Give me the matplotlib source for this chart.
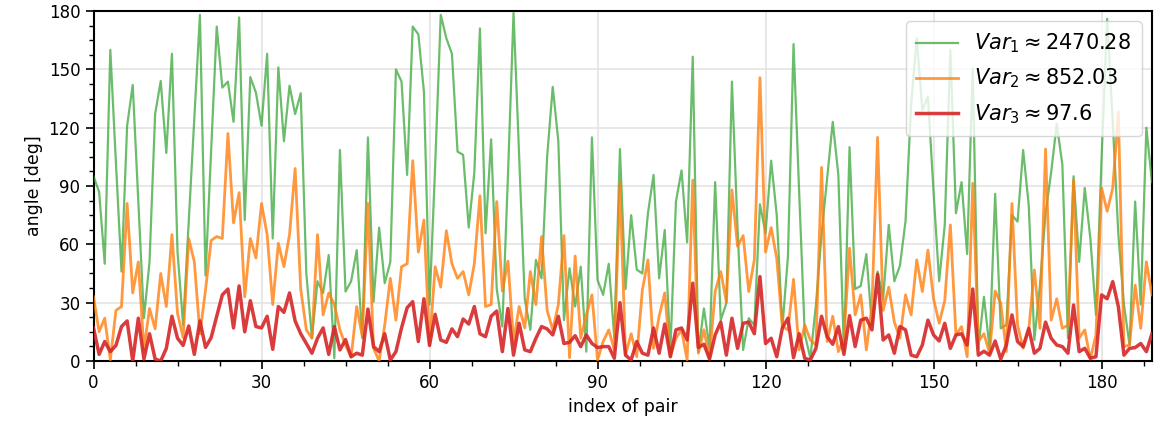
import matplotlib
matplotlib.use("Agg")
import matplotlib.pyplot as plt
from matplotlib.ticker import MultipleLocator
import numpy as np

var1 = [95, 87, 50, 160, 102, 46, 121, 142, 82, 22, 51, 127, 144, 107, 158, 56, 18.5, 72, 125, 178,
        44, 108, 172, 140.6, 143.7, 123, 176.7, 72.5, 146, 138, 121, 158, 63, 151, 113, 141.6, 127, 137.7, 45, 11.7,
        41, 35, 54.5, 1.4, 108.5, 35.7, 41, 57, 11.7, 115, 30.5, 68.6, 40, 51, 150, 143.7, 95.7, 172, 168, 138.5,
        29, 100, 178, 166, 158, 107.7, 106, 68.6, 97, 171, 65.7, 114, 37, 17.7, 95, 179, 106, 32, 16, 52,
        42.5, 105, 141, 113, 21, 47.7, 28, 48.5, 4.8, 115, 41.7, 34, 50, 11.7, 109, 37, 75, 47, 45, 76,
        95.7, 42.5, 67.4, 4.8, 82, 98, 61, 156.5, 4.8, 27, 6.5, 92, 21, 29.7, 143.7, 68, 5.7, 22, 18.5, 80.6,
        65.7, 103, 75, 17, 53.7, 163, 87, 14, 1.4, 29, 65, 94, 123, 95.7, 4.8, 110, 37, 38.6, 55, 18.5,
        46, 32, 70, 41, 49, 72, 132, 166, 129, 136, 87, 41, 70, 160, 76, 92, 55, 150.5, 6.5, 33,
        6.5, 86, 16.8, 18.5, 75, 71.7, 108.5, 80, 10.8, 39, 76, 97, 122, 101, 11.7, 95, 51, 89, 63, 23.7,
        104, 176, 123, 65, 29, 8.2, 82, 29, 120, 92]
var2 = [33, 15, 22, 0.5, 26, 28, 81, 35, 51, 6, 27, 16.5, 45, 28, 65, 24.5, 12, 63, 51, 14,
        36.5, 62, 64, 63, 117, 71, 86.6, 33, 63, 53, 81, 65, 29, 60.5, 48.5, 65, 99, 37, 16, 11.7,
        65, 23.7, 35, 29, 16, 8, 2, 28, 12.5, 81, 6.5, 0, 18.5, 42.5, 21, 48.5, 50, 103, 56, 72.5,
        8, 48.5, 38, 67, 50, 42.5, 46, 34, 50, 85, 28, 29, 82, 36, 51.4, 10, 28, 17, 46, 29,
        64, 26, 16, 29, 64.5, 1.7, 54, 11.7, 23.7, 34, 0.5, 10, 16, 5.7, 91.4, 3, 14, 2.2, 36.5, 52,
        6.5, 23, 35, 2.2, 11.7, 16, 0.5, 93, 4, 16, 1.4, 35.7, 46, 30.5, 88, 59, 64.5, 35.7, 52, 145.7,
        56, 68.6, 52.8, 17.7, 16, 42, 5.7, 18.5, 10.8, 8.2, 99.6, 10, 23, 4.8, 11.7, 58, 23.7, 34, 5.7, 28,
        115, 26, 38, 20, 11.7, 34, 23.7, 52, 35.7, 57, 32, 19.4, 31, 70, 13.4, 17.7, 2.2, 91.4, 10, 14,
        4, 36, 29.7, 4.8, 81, 18.5, 6.5, 16, 46.8, 16.8, 109, 21, 32, 16.8, 18.5, 93, 11.7, 16, 1, 13.4,
        89, 77, 89, 128, 7.4, 8.2, 39, 16.8, 51, 34]
var3 = [17, 3.4, 10, 4.8, 8, 17.7, 20.6, 0, 22, 1, 14, 1, 0, 6.5, 23, 11.7, 8, 18, 3.4, 20.6,
        7, 12, 23, 34, 37, 17, 38.6, 15, 31, 17.7, 17, 23, 6, 28, 25, 35, 20.6, 14, 9, 4,
        11.7, 17, 3.4, 17.7, 5.7, 11, 2.2, 4, 3, 26.7, 7.4, 4.8, 14, 0.5, 4.8, 17, 27.4, 30.5, 10, 32,
        8, 24, 10.8, 9.6, 16.5, 12.5, 21.6, 19, 28, 14, 12.5, 23, 25.7, 4.8, 27, 3, 19.4, 5.7, 4.8, 11.7,
        17.7, 16.5, 13.4, 23, 9, 9.6, 13, 7.4, 13.4, 9, 6.9, 7.4, 7.4, 1.4, 30, 3, 0.5, 10, 4, 3,
        17, 4, 19, 2.2, 16, 17, 10.8, 40, 6.9, 8.6, 1, 13.4, 20, 3, 22, 6.5, 19.4, 20, 14, 43.4,
        9, 11.7, 2.2, 17, 22, 1.7, 14, 1.4, 0.5, 6.5, 23, 12.5, 8.6, 17.7, 3.4, 23.3, 7.4, 21, 22, 16,
        44.6, 10.8, 13.4, 4, 17.7, 16, 3, 2.2, 8.2, 21, 13.4, 10.3, 19.4, 6.5, 13.4, 14, 8.2, 37, 3, 5,
        3, 10.3, 1, 8.2, 23.7, 10, 7.4, 16.8, 4, 6.5, 20, 11.7, 8.2, 7.4, 4, 28.8, 4.8, 6.5, 1.4, 2.2,
        34, 32, 40.8, 28, 3, 6.5, 6.9, 9, 4.8, 14]
labels = [r'$Var_1 \approx 2470.28$', r'$Var_2 \approx 852.03$', r'$Var_3 \approx 97.6$']
xlabel = 'index of pair'
ylabel = 'angle [deg]'

fig = plt.figure(figsize=(11.56, 4.30), dpi=100)
ax = fig.add_axes([0.0809, 0.1605, 0.9156, 0.8139])
x = np.arange(len(var1))
ax.plot(x, var1, color='#2ca02c', alpha=0.7, lw=1.6, label=labels[0], zorder=3)
ax.plot(x, var2, color='#ff7f0e', alpha=0.8, lw=2.0, label=labels[1], zorder=4)
ax.plot(x, var3, color='#d62728', alpha=0.9, lw=2.5, label=labels[2], zorder=5)

ax.set_xlim(0, len(var1) - 1)
ax.set_ylim(0, 180)
ax.xaxis.set_major_locator(MultipleLocator(30))
ax.xaxis.set_minor_locator(MultipleLocator(7.5))
ax.yaxis.set_major_locator(MultipleLocator(30))
ax.yaxis.set_minor_locator(MultipleLocator(7.5))
ax.grid(True, which='major', color='#e6e6e6', lw=1.3, zorder=0)
ax.set_axisbelow(True)
ax.tick_params(which='major', length=6, width=1.2, labelsize=12)
ax.tick_params(which='minor', length=3.5, width=1.0)
for s in ax.spines.values():
    s.set_linewidth(1.5)
ax.set_xlabel(xlabel, fontsize=12.5)
ax.set_ylabel(ylabel, fontsize=12.5)
leg = ax.legend(loc='upper right', fontsize=15, framealpha=0.8, borderaxespad=0.5,
                borderpad=0.5, handlelength=2.0, labelspacing=0.55)
fig.savefig('out.png', dpi=100)
